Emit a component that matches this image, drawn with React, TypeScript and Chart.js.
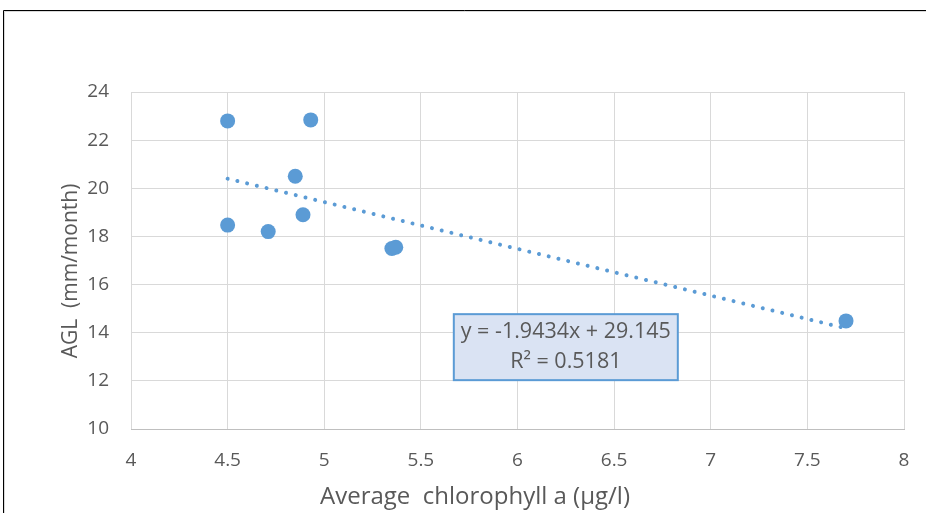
import React, { useEffect, useRef } from "react";
import { Chart, registerables } from "chart.js";

Chart.register(...registerables);

const chlorophyll = [4.5, 4.93, 4.85, 4.5, 4.71, 4.89, 5.35, 5.37, 7.7];
const agl = [22.8, 22.84, 20.5, 18.47, 18.2, 18.9, 17.5, 17.55, 14.49];
const trendSlope = -1.9434;
const trendIntercept = 29.145;
const trendRange = [4.5, 7.7];
const equationLines = ["y = -1.9434x + 29.145", "R² = 0.5181"];
const xTitle = "Average  chlorophyll a (µg/l)";
const yTitle = "AGL  (mm/month)";

const FONT = "'Open Sans', sans-serif";
const GRAY = "#595959";
const BLUE = "#5B9BD5";

const framePlugin = {
  id: "frame",
  afterDraw(chart: any) {
    const ctx = chart.ctx;
    ctx.save();
    ctx.strokeStyle = "#000000";
    ctx.lineWidth = 1;
    ctx.beginPath();
    ctx.moveTo(3.5, chart.height);
    ctx.lineTo(3.5, 10.5);
    ctx.lineTo(chart.width, 10.5);
    ctx.stroke();
    ctx.strokeStyle = "#d9d9d9";
    ctx.beginPath();
    ctx.moveTo(4.5, chart.height);
    ctx.lineTo(4.5, 11.5);
    ctx.lineTo(chart.width, 11.5);
    ctx.stroke();
    ctx.restore();
  },
};

const titlesPlugin = {
  id: "axisTitles",
  afterDraw(chart: any) {
    const ctx = chart.ctx;
    ctx.save();
    ctx.fillStyle = GRAY;
    ctx.textAlign = "center";
    ctx.textBaseline = "middle";
    ctx.font = `24px ${FONT}`;
    ctx.fillText(xTitle, 475, 497);
    ctx.translate(71, 271);
    ctx.rotate(-Math.PI / 2);
    ctx.font = `21px ${FONT}`;
    ctx.fillText(yTitle, 0, 0);
    ctx.restore();
  },
};

const equationPlugin = {
  id: "equation",
  afterDatasetsDraw(chart: any) {
    const ctx = chart.ctx;
    const xs = chart.scales.x;
    const ys = chart.scales.y;
    const cx = xs.getPixelForValue(6.25);
    const cy = ys.getPixelForValue(13.4);
    const w = 224;
    const h = 66;
    ctx.save();
    ctx.fillStyle = "#DAE3F3";
    ctx.fillRect(cx - w / 2, cy - h / 2, w, h);
    ctx.strokeStyle = BLUE;
    ctx.lineWidth = 2;
    ctx.strokeRect(cx - w / 2, cy - h / 2, w, h);
    ctx.fillStyle = GRAY;
    ctx.font = `21.5px ${FONT}`;
    ctx.textAlign = "center";
    ctx.textBaseline = "middle";
    ctx.fillText(equationLines[0], cx, cy - 15);
    ctx.fillText(equationLines[1], cx, cy + 15);
    ctx.restore();
  },
};

export default function App() {
  const ref = useRef<HTMLCanvasElement>(null);
  useEffect(() => {
    if (!ref.current) return;
    const chart = new Chart(ref.current, {
      type: "scatter",
      data: {
        datasets: [
          {
            label: "AGL",
            data: chlorophyll.map((x, i) => ({ x, y: agl[i] })),
            backgroundColor: BLUE,
            borderColor: BLUE,
            borderWidth: 0,
            pointRadius: 7.5,
            order: 0,
          },
          {
            type: "line",
            label: "Trend",
            data: trendRange.map((x) => ({ x, y: trendSlope * x + trendIntercept })),
            borderColor: BLUE,
            borderWidth: 4,
            borderDash: [0.01, 10],
            borderCapStyle: "round",
            pointRadius: 0,
            showLine: true,
            fill: false,
            order: 1,
          } as any,
        ],
      },
      options: {
        responsive: false,
        animation: false,
        layout: { padding: { left: 57, right: 22, top: 92, bottom: 0 } },
        plugins: { legend: { display: false }, tooltip: { enabled: false } },
        scales: {
          x: {
            type: "linear",
            min: 4,
            max: 8,
            ticks: {
              stepSize: 0.5,
              color: GRAY,
              font: { family: FONT, size: 19 },
              padding: 20,
              callback: (v: any) => String(v),
            },
            grid: { color: "#d9d9d9", drawTicks: false },
            border: { color: "#bfbfbf" },
            afterFit: (s: any) => {
              s.height = 84;
              s.paddingLeft = 0;
              s.paddingRight = 0;
            },
          },
          y: {
            type: "linear",
            min: 10,
            max: 24,
            ticks: {
              stepSize: 2,
              color: GRAY,
              font: { family: FONT, size: 19 },
              padding: 22,
              callback: (v: any) => String(v),
            },
            grid: { color: "#d9d9d9", drawTicks: false },
            border: { display: false },
            afterFit: (s: any) => {
              s.width = 74;
              s.paddingTop = 0;
              s.paddingBottom = 0;
            },
          },
        },
      },
      plugins: [framePlugin, titlesPlugin, equationPlugin],
    });
    return () => chart.destroy();
  }, []);
  return (
    <div style={{ position: "absolute", left: 0, top: 0, width: 926, height: 513, background: "#fff" }}>
      <canvas ref={ref} width={926} height={513} style={{ display: "block" }} />
    </div>
  );
}
